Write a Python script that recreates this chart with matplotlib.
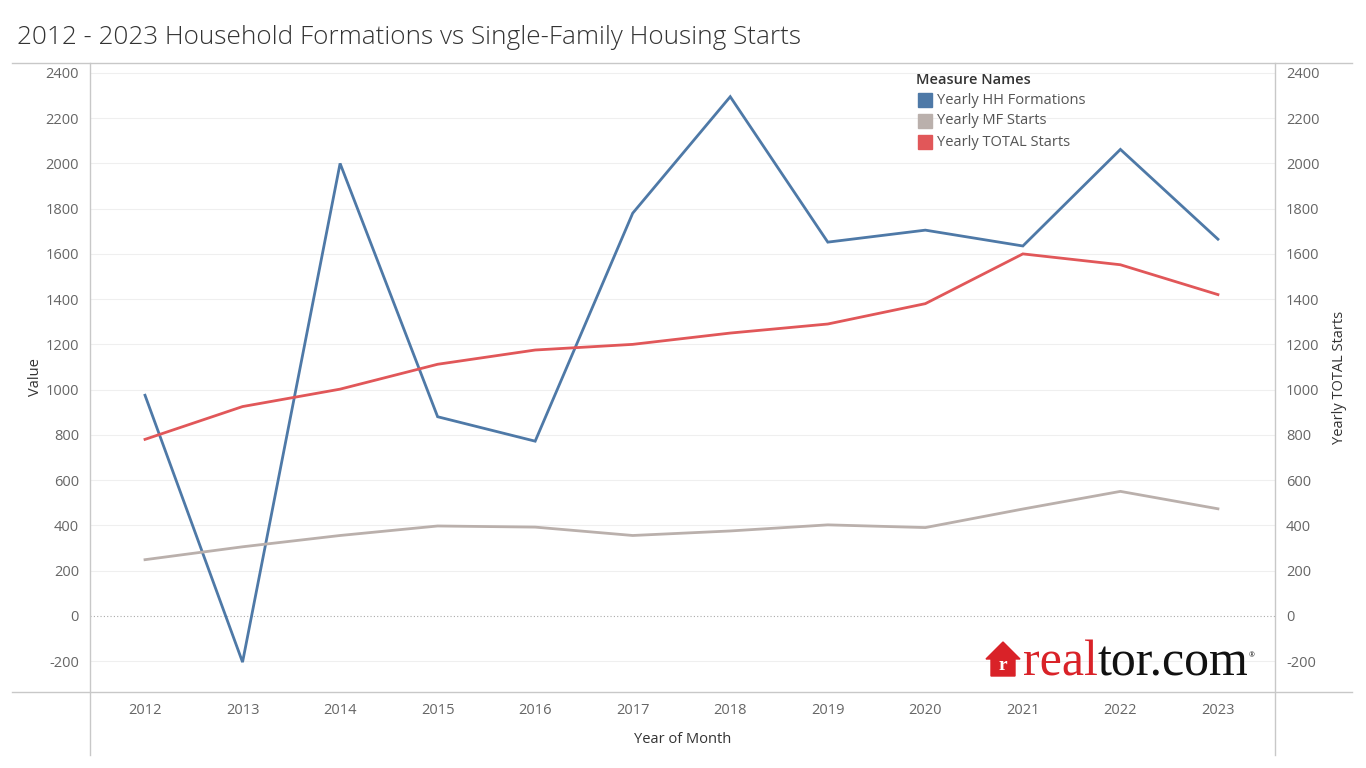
import matplotlib.pyplot as plt
from matplotlib.lines import Line2D
from matplotlib.patches import Polygon, Rectangle
import numpy as np

years = [2012, 2013, 2014, 2015, 2016, 2017, 2018, 2019, 2020, 2021, 2022, 2023]
hh_formations = [975, -205, 2000, 880, 772, 1780, 2295, 1652, 1705, 1635, 2062, 1665]
mf_starts = [248, 305, 355, 397, 392, 355, 375, 402, 390, 472, 550, 473]
total_starts = [780, 925, 1002, 1112, 1175, 1200, 1250, 1290, 1380, 1600, 1552, 1420]

series_names = ['Yearly HH Formations', 'Yearly MF Starts', 'Yearly TOTAL Starts']
colors = ['#4e79a7', '#bab0ac', '#e15759']
yticks = list(range(-200, 2401, 200))

plt.rcParams['font.family'] = ['Open Sans', 'DejaVu Sans']
plt.rcParams['axes.unicode_minus'] = False

fig = plt.figure(figsize=(13.66, 7.68), dpi=100)
W, H = 1366, 768
ax = fig.add_axes([90 / W, 1 - 692 / H, (1275 - 90) / W, (692 - 63) / H])

for vals, c in zip([hh_formations, mf_starts, total_starts], colors):
    ax.plot(years, vals, color=c, lw=2.0, solid_joinstyle='miter', zorder=3)

ax.set_xlim(2011.436, 2023.585)
ax.set_ylim(-337, 2444)
ax.set_yticks(yticks)
ax.set_xticks(years)
for y in yticks:
    if y == 0:
        ax.axhline(0, color='#aaaaaa', lw=0.8, ls=(0, (1, 2)), zorder=1)
    else:
        ax.axhline(y, color='#efefef', lw=0.8, zorder=1)

for s in ax.spines.values():
    s.set_visible(False)
ax.tick_params(length=0, labelsize=10.5, labelcolor='#666666', pad=8)
ax.tick_params(axis='x', pad=8)

ax2 = ax.twinx()
ax2.set_ylim(ax.get_ylim())
ax2.set_yticks(yticks)
for s in ax2.spines.values():
    s.set_visible(False)
ax2.tick_params(length=0, labelsize=10.5, labelcolor='#666666', pad=8)

ax.set_xlabel('Year of Month', fontsize=10.5, color='#333333', labelpad=10)
ax.set_ylabel('Value', fontsize=10.5, color='#333333', labelpad=2)
ax2.set_ylabel('Yearly TOTAL Starts', fontsize=10.5, color='#333333', labelpad=9)

# frame lines (tableau style)
line_c = '#c8c8c8'
fig.add_artist(Line2D([12 / W, 1352 / W], [1 - 63 / H, 1 - 63 / H], color=line_c, lw=1))
fig.add_artist(Line2D([12 / W, 1352 / W], [1 - 692 / H, 1 - 692 / H], color=line_c, lw=1))
fig.add_artist(Line2D([90 / W, 90 / W], [1 - 63 / H, 1 - 755 / H], color=line_c, lw=1))
fig.add_artist(Line2D([1275 / W, 1275 / W], [1 - 63 / H, 1 - 755 / H], color=line_c, lw=1))

fig.text(17 / W, 1 - 37 / H, '2012 - 2023 Household Formations vs Single-Family Housing Starts',
         fontsize=18.8, color='#333333', va='center', ha='left', fontweight='light')

# legend
fig.text(916 / W, 1 - 80 / H, 'Measure Names', fontsize=10.5, color='#333333',
         va='center', ha='left', fontweight='semibold')
for i, (name, c) in enumerate(zip(series_names, colors)):
    yc = 1 - (100 + 21 * i) / H
    fig.add_artist(Rectangle((918 / W, yc - 7 / H), 14 / W, 14 / H, color=c))
    fig.text(937 / W, yc, name, fontsize=10.5, color='#555555', va='center', ha='left')

# realtor.com logo
house = Polygon([(986 / W, 1 - 659 / H), (1003 / W, 1 - 642 / H), (1020 / W, 1 - 659 / H),
                 (1015 / W, 1 - 659 / H), (1015 / W, 1 - 676 / H), (991 / W, 1 - 676 / H),
                 (991 / W, 1 - 659 / H)], closed=True, color='#d92228')
fig.add_artist(house)
fig.text(1003 / W, 1 - 665 / H, 'r', fontsize=14, color='white', family='Liberation Serif',
         fontweight='bold', ha='center', va='center')
t1 = fig.text(1023 / W, 1 - 675 / H, 'real', fontsize=36, color='#d92228',
              family='Liberation Serif', ha='left', va='baseline')
fig.canvas.draw()
bb = t1.get_window_extent()
t2 = fig.text(bb.x1 / W, 1 - 675 / H, 'tor.com', fontsize=36, color='#111111',
              family='Liberation Serif', ha='left', va='baseline')
fig.canvas.draw()
bb2 = t2.get_window_extent()
fig.text(bb2.x1 / W, 1 - 657 / H, '®', fontsize=5, color='#111111', ha='left', va='baseline')

fig.savefig('out.png', dpi=100, facecolor='white')
